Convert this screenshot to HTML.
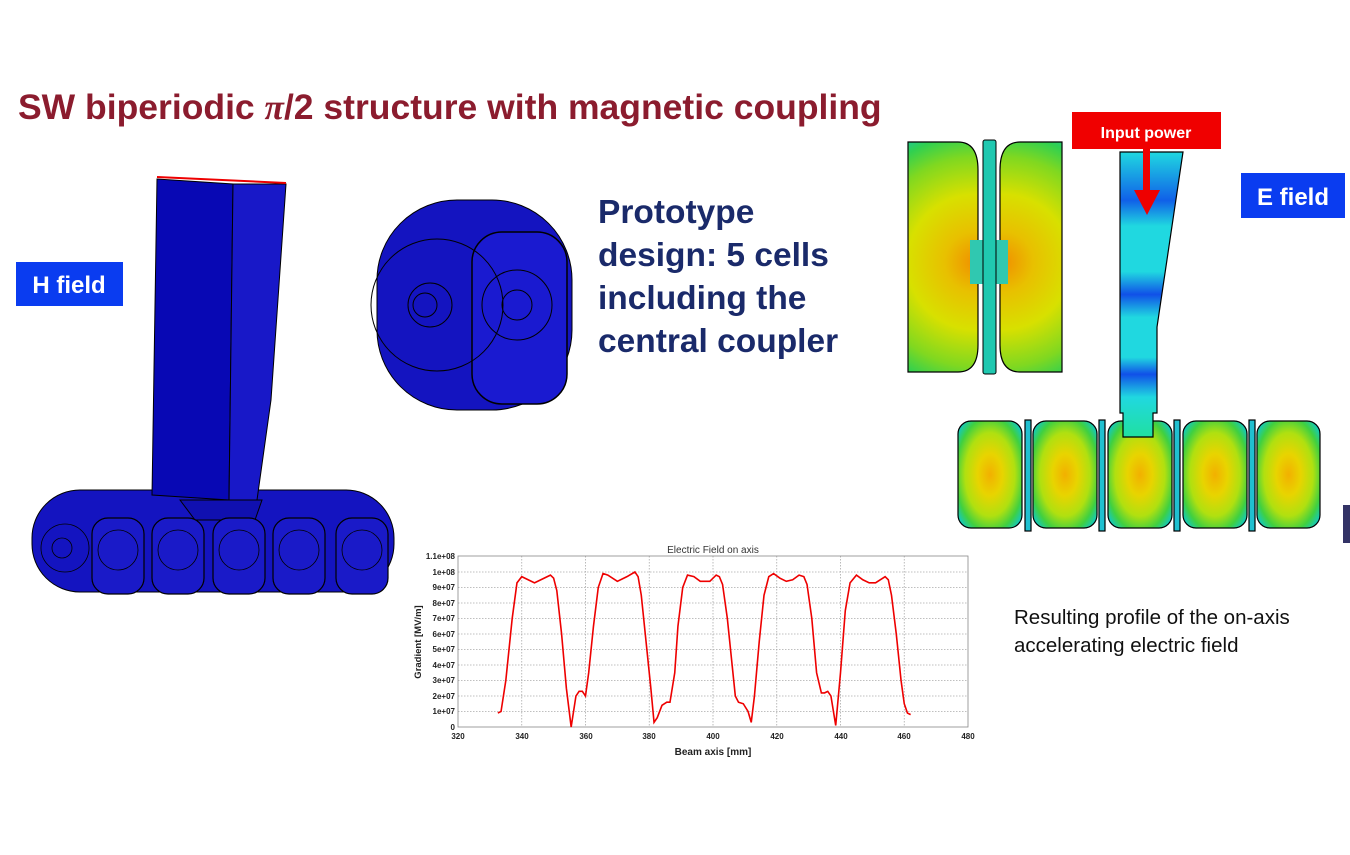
<!DOCTYPE html>
<html><head><meta charset="utf-8"><style>
body{margin:0;width:1350px;height:850px;background:#fff;overflow:hidden;font-family:"Liberation Sans",sans-serif}
</style></head><body>
<svg width="1350" height="850" viewBox="0 0 1350 850" xmlns="http://www.w3.org/2000/svg" font-family="Liberation Sans, sans-serif">
<defs>
<radialGradient id="cell" cx="0.5" cy="0.5" r="0.65">
<stop offset="0" stop-color="#f2b000"/><stop offset="0.3" stop-color="#e8d400"/><stop offset="0.6" stop-color="#b0e010"/><stop offset="0.82" stop-color="#40d040"/><stop offset="1" stop-color="#10c8c8"/>
</radialGradient>
<radialGradient id="halfL" gradientUnits="userSpaceOnUse" cx="975" cy="262" r="150">
<stop offset="0" stop-color="#f09000"/><stop offset="0.2" stop-color="#e8c000"/><stop offset="0.45" stop-color="#d8e000"/><stop offset="0.7" stop-color="#80d820"/><stop offset="0.85" stop-color="#30d050"/><stop offset="1" stop-color="#10c0d0"/>
</radialGradient>
<radialGradient id="halfR" gradientUnits="userSpaceOnUse" cx="1003" cy="262" r="150">
<stop offset="0" stop-color="#f09000"/><stop offset="0.2" stop-color="#e8c000"/><stop offset="0.45" stop-color="#d8e000"/><stop offset="0.7" stop-color="#80d820"/><stop offset="0.85" stop-color="#30d050"/><stop offset="1" stop-color="#10c0d0"/>
</radialGradient>
<linearGradient id="wg" x1="0" y1="0" x2="0" y2="1">
<stop offset="0" stop-color="#20d8e0"/><stop offset="0.17" stop-color="#1060e8"/><stop offset="0.26" stop-color="#20d8e0"/><stop offset="0.42" stop-color="#20d8e0"/><stop offset="0.5" stop-color="#1050e8"/><stop offset="0.58" stop-color="#20d8e0"/><stop offset="0.72" stop-color="#20d8e0"/><stop offset="0.78" stop-color="#1050e8"/><stop offset="0.86" stop-color="#20d8e0"/><stop offset="1" stop-color="#20e0a0"/>
</linearGradient>
</defs>

<text x="18" y="119" font-size="35.5" font-weight="bold" fill="#8b1c2e">SW biperiodic <tspan font-style="italic" font-family="Liberation Serif, serif">π</tspan>/2 structure with magnetic coupling</text>

<rect x="16" y="262" width="107" height="44" fill="#0a3cf0"/>
<text x="69" y="293" font-size="24" font-weight="bold" fill="#fff" text-anchor="middle">H field</text>

<rect x="32" y="490" width="362" height="102" rx="48" fill="#1414c0" stroke="#000" stroke-width="1"/>
<path d="M180 500 L262 500 L255 520 L195 520 Z" fill="#1010b0" stroke="#000" stroke-width="1"/>
<polygon points="157,179 233,184 229,500 152,495" fill="#0808b4" stroke="#000" stroke-width="1"/>
<polygon points="233,184 286,184 271,400 257,500 229,500" fill="#1818c8" stroke="#000" stroke-width="1"/>
<line x1="157" y1="177" x2="286" y2="183" stroke="#e00" stroke-width="2"/>
<g fill="#1a1ac8" stroke="#000" stroke-width="1.2">
<rect x="92" y="518" width="52" height="76" rx="16"/>
<rect x="152" y="518" width="52" height="76" rx="16"/>
<rect x="213" y="518" width="52" height="76" rx="16"/>
<rect x="273" y="518" width="52" height="76" rx="16"/>
<rect x="336" y="518" width="52" height="76" rx="16"/>
</g>
<g fill="none" stroke="#000" stroke-width="0.8">
<circle cx="65" cy="548" r="24"/><circle cx="62" cy="548" r="10"/>
<circle cx="118" cy="550" r="20"/><circle cx="178" cy="550" r="20"/><circle cx="239" cy="550" r="20"/><circle cx="299" cy="550" r="20"/><circle cx="362" cy="550" r="20"/>
</g>

<rect x="377" y="200" width="195" height="210" rx="80" fill="#1414c0" stroke="#000"/>
<rect x="472" y="232" width="95" height="172" rx="30" fill="#1a1ad0" stroke="#000" stroke-width="1.5"/>
<g fill="none" stroke="#000" stroke-width="1">
<circle cx="437" cy="305" r="66"/><circle cx="430" cy="305" r="22"/><circle cx="425" cy="305" r="12"/>
<circle cx="517" cy="305" r="35"/><circle cx="517" cy="305" r="15"/>
</g>

<g font-size="33.5" font-weight="bold" fill="#1a2a6a">
<text x="598" y="223">Prototype</text>
<text x="598" y="266">design: 5 cells</text>
<text x="598" y="309">including the</text>
<text x="598" y="352">central coupler</text>
</g>

<path d="M908 142 L958 142 Q978 142 978 170 L978 345 Q978 372 958 372 L908 372 Z" fill="url(#halfL)" stroke="#000" stroke-width="1.2"/>
<path d="M1062 142 L1020 142 Q1000 142 1000 170 L1000 345 Q1000 372 1020 372 L1062 372 Z" fill="url(#halfR)" stroke="#000" stroke-width="1.2"/>
<rect x="970" y="240" width="38" height="44" fill="#30c8b0"/>
<rect x="983" y="140" width="13" height="234" rx="2" fill="#20c8b0" stroke="#000"/>

<g stroke="#000" stroke-width="1.2">
<rect x="958" y="421" width="64" height="107" rx="13" fill="url(#cell)"/>
<rect x="1033" y="421" width="64" height="107" rx="13" fill="url(#cell)"/>
<rect x="1108" y="421" width="64" height="107" rx="13" fill="url(#cell)"/>
<rect x="1183" y="421" width="64" height="107" rx="13" fill="url(#cell)"/>
<rect x="1257" y="421" width="63" height="107" rx="13" fill="url(#cell)"/>
<rect x="1025" y="420" width="6" height="111" fill="#20c0d0"/>
<rect x="1099" y="420" width="6" height="111" fill="#20c0d0"/>
<rect x="1174" y="420" width="6" height="111" fill="#20c0d0"/>
<rect x="1249" y="420" width="6" height="111" fill="#20c0d0"/>
</g>
<polygon points="1120,152 1183,152 1157,327 1157,413 1153,413 1153,437 1123,437 1123,413 1120,413" fill="url(#wg)" stroke="#000" stroke-width="1.2"/>
<rect x="1072" y="112" width="149" height="37" fill="#f00000"/>
<text x="1146" y="138" font-size="16" font-weight="bold" fill="#fff" text-anchor="middle">Input power</text>
<rect x="1143" y="149" width="7" height="46" fill="#e00"/>
<polygon points="1134,190 1160,190 1147,215" fill="#e00"/>
<rect x="1241" y="173" width="104" height="45" fill="#0a3cf0"/>
<text x="1293" y="205" font-size="24" font-weight="bold" fill="#fff" text-anchor="middle">E field</text>
<rect x="1343" y="505" width="7" height="38" fill="#336"/>

<text x="713" y="553" font-size="10" text-anchor="middle" fill="#333">Electric Field on axis</text>
<g stroke="#aaa" stroke-width="0.8" stroke-dasharray="1.5,1.5">
<line x1="458" y1="711.5" x2="968" y2="711.5"/><line x1="458" y1="696" x2="968" y2="696"/><line x1="458" y1="680.5" x2="968" y2="680.5"/><line x1="458" y1="665" x2="968" y2="665"/><line x1="458" y1="649.5" x2="968" y2="649.5"/><line x1="458" y1="634" x2="968" y2="634"/><line x1="458" y1="618.5" x2="968" y2="618.5"/><line x1="458" y1="603" x2="968" y2="603"/><line x1="458" y1="587.5" x2="968" y2="587.5"/><line x1="458" y1="572" x2="968" y2="572"/>
<line x1="521.75" y1="556" x2="521.75" y2="727"/><line x1="585.5" y1="556" x2="585.5" y2="727"/><line x1="649.25" y1="556" x2="649.25" y2="727"/><line x1="713" y1="556" x2="713" y2="727"/><line x1="776.75" y1="556" x2="776.75" y2="727"/><line x1="840.5" y1="556" x2="840.5" y2="727"/><line x1="904.25" y1="556" x2="904.25" y2="727"/>
</g>
<rect x="458" y="556" width="510" height="171" fill="none" stroke="#888" stroke-width="0.8"/>
<g font-size="8" font-weight="bold" fill="#222" text-anchor="end">
<text x="455" y="730">0</text><text x="455" y="714">1e+07</text><text x="455" y="699">2e+07</text><text x="455" y="683">3e+07</text><text x="455" y="668">4e+07</text><text x="455" y="652">5e+07</text><text x="455" y="637">6e+07</text><text x="455" y="621">7e+07</text><text x="455" y="606">8e+07</text><text x="455" y="590">9e+07</text><text x="455" y="575">1e+08</text><text x="455" y="559">1.1e+08</text>
</g>
<g font-size="8" font-weight="bold" fill="#222" text-anchor="middle">
<text x="458" y="739">320</text><text x="522" y="739">340</text><text x="586" y="739">360</text><text x="649" y="739">380</text><text x="713" y="739">400</text><text x="777" y="739">420</text><text x="841" y="739">440</text><text x="904" y="739">460</text><text x="968" y="739">480</text>
</g>
<text x="713" y="755" font-size="10" font-weight="bold" text-anchor="middle" fill="#222">Beam axis [mm]</text>
<text transform="translate(421,642) rotate(-90)" font-size="9.5" font-weight="bold" text-anchor="middle" fill="#222">Gradient [MV/m]</text>
<g transform="translate(458,727) scale(3.1875,-15.5) translate(-320,0)">
<polyline fill="none" stroke="#e00" stroke-width="1.6" vector-effect="non-scaling-stroke" points="332.5,0.9 333.5,1 335,3 337,7 338.5,9.3 340,9.7 342,9.5 344,9.3 346,9.5 349,9.8 350,9.6 351,8.8 352.5,6 354,2.5 355.5,0 357,2 358,2.3 359,2.3 360,2 361,3.5 362.5,6.5 364,9 365.5,9.9 367,9.8 370,9.4 373,9.7 375.5,10 376.5,9.7 377.5,8.5 379,5.5 380.5,2.5 381.5,0.3 382.5,0.6 384,1.4 385.5,1.6 386.5,1.6 388,3.5 389,6.5 390.5,9 392,9.8 394,9.7 396,9.4 399,9.4 401,9.8 402,9.7 403,9.2 404.5,7 406,4 407,2 408,1.6 409.5,1.5 411,1 412,0.3 413,2 414.5,5.5 416,8.5 417.5,9.7 419,9.9 421,9.6 423,9.4 425,9.5 427,9.8 428.5,9.7 429.5,9.2 431,7 432.5,3.5 434,2.2 435,2.2 436,2.3 437,2 438.5,0.1 440,3.5 441.5,7.5 443,9.3 445,9.8 447,9.5 449,9.3 451,9.3 454,9.7 455,9.5 456,8.5 457.5,6 459,3 460,1.5 461,0.9 462,0.8"/>
</g>

<text x="1014" y="624" font-size="20.5" fill="#111">Resulting profile of the on-axis</text>
<text x="1014" y="652" font-size="20.5" fill="#111">accelerating  electric field</text>
</svg>
</body></html>
